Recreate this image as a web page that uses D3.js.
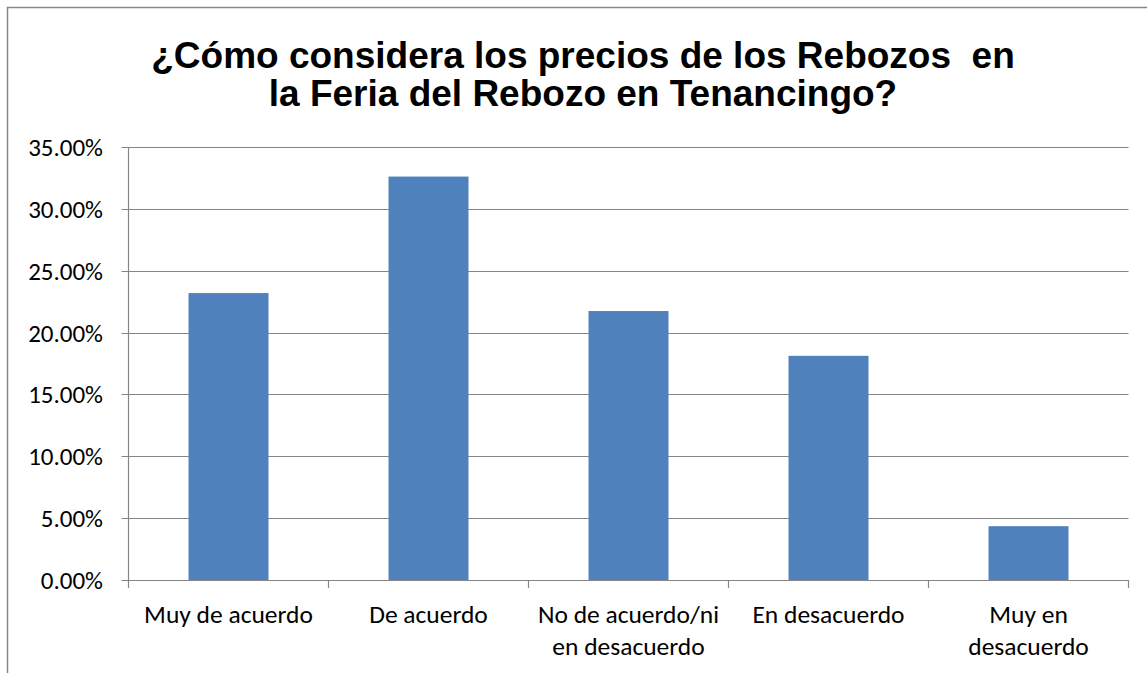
<!DOCTYPE html>
<html>
<head>
<meta charset="utf-8">
<script src="https://cdn.jsdelivr.net/npm/d3@7"></script>
<style>
  body { margin: 0; background: #fff; }
  svg text { fill: #000; }
</style>
</head>
<body>
<div id="chart"></div>
<script>
var width = 1147, height = 673;

// data
var categories = [["Muy de acuerdo"], ["De acuerdo"], ["No de acuerdo/ni", "en desacuerdo"], ["En desacuerdo"], ["Muy en", "desacuerdo"]];
var values = [0.2319, 0.3261, 0.2174, 0.1812, 0.0435];
var yTicks = [0, 0.05, 0.10, 0.15, 0.20, 0.25, 0.30, 0.35];
var titleLines = ["¿Cómo considera los precios de los Rebozos\u00a0 en", "la Feria del Rebozo en Tenancingo?"];

var svg = d3.select("#chart").append("svg")
    .attr("width", width)
    .attr("height", height);

// outer chart frame
svg.append("rect")
    .attr("x", 7.5).attr("y", 7.5)
    .attr("width", 1160).attr("height", 700)
    .attr("fill", "none")
    .attr("stroke", "#868686")
    .attr("stroke-width", 1.5);

var title = svg.append("text")
    .attr("text-anchor", "middle")
    .style("font-family", "Arial, 'Liberation Sans', sans-serif")
    .style("font-weight", "bold")
    .style("font-size", "37px");
title.selectAll("tspan")
    .data(titleLines)
    .enter().append("tspan")
    .attr("x", 583)
    .attr("y", (d, i) => 68 + i * 38)
    .text(d => d);

var plotL = 128.5, plotR = 1128.5, plotT = 147, plotB = 580;

var x = d3.scaleBand()
    .domain(d3.range(values.length))
    .range([plotL, plotR]);

var y = d3.scaleLinear()
    .domain([0, 0.35])
    .range([plotB, plotT]);

var pct = d3.format(".2%");

// gridlines
svg.append("g").selectAll("line")
    .data(yTicks)
    .enter().append("line")
    .attr("x1", plotL - 7).attr("x2", plotR)
    .attr("y1", d => Math.round(y(d)) + 0.5)
    .attr("y2", d => Math.round(y(d)) + 0.5)
    .attr("stroke", "#868686")
    .attr("stroke-width", 1.2);

// y tick labels
svg.append("g").selectAll("text")
    .data(yTicks)
    .enter().append("text")
    .attr("x", 103)
    .attr("y", d => y(d))
    .attr("dy", "0.36em")
    .attr("text-anchor", "end")
    .style("font-family", "Carlito, Lato, sans-serif")
    .style("font-size", "25px")
    .text(d => pct(d));

// bars
svg.append("g").selectAll("rect")
    .data(values)
    .enter().append("rect")
    .attr("x", (d, i) => x(i) + x.bandwidth() * 0.3)
    .attr("width", x.bandwidth() * 0.4)
    .attr("y", d => y(d))
    .attr("height", d => y(0) - y(d))
    .attr("fill", "#4F81BD");

// y axis line
svg.append("line")
    .attr("x1", plotL).attr("x2", plotL)
    .attr("y1", plotT).attr("y2", plotB)
    .attr("stroke", "#868686")
    .attr("stroke-width", 1.2);

// x axis line and ticks
svg.append("line")
    .attr("x1", plotL).attr("x2", plotR)
    .attr("y1", plotB + 0.5).attr("y2", plotB + 0.5)
    .attr("stroke", "#868686")
    .attr("stroke-width", 1.2);
svg.append("g").selectAll("line")
    .data(d3.range(values.length + 1))
    .enter().append("line")
    .attr("x1", i => plotL + i * x.step())
    .attr("x2", i => plotL + i * x.step())
    .attr("y1", plotB).attr("y2", plotB + 8)
    .attr("stroke", "#868686")
    .attr("stroke-width", 1.2);

// category labels
var cat = svg.append("g").selectAll("text")
    .data(categories)
    .enter().append("text")
    .attr("text-anchor", "middle")
    .style("font-family", "Carlito, Lato, sans-serif")
    .style("font-size", "25.5px");
cat.each(function (lines, i) {
    d3.select(this).selectAll("tspan")
        .data(lines)
        .enter().append("tspan")
        .attr("x", x(i) + x.bandwidth() / 2)
        .attr("y", (d, j) => 623 + j * 31.5)
        .text(d => d);
});
</script>
</body>
</html>
